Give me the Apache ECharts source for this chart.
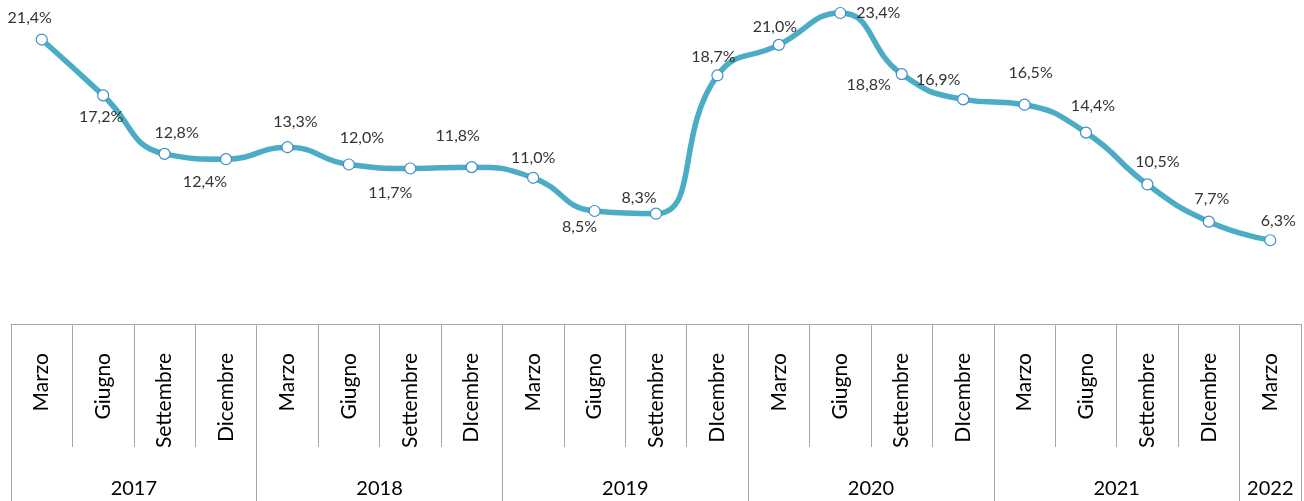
<!DOCTYPE html>
<html>
<head>
<meta charset="utf-8">
<script src="https://cdn.jsdelivr.net/npm/echarts@6/dist/echarts.min.js"></script>
<style>
  html, body { margin: 0; padding: 0; background: #fff; }
  #chart { width: 1304px; height: 501px; }
</style>
</head>
<body>
<div id="chart"></div>
<script>
// trimestri (come nel grafico originale, anche le "DIcembre")
var months = ['Marzo', 'Giugno', 'Settembre', 'Dicembre',
              'Marzo', 'Giugno', 'Settembre', 'DIcembre',
              'Marzo', 'Giugno', 'Settembre', 'DIcembre',
              'Marzo', 'Giugno', 'Settembre', 'DIcembre',
              'Marzo', 'Giugno', 'Settembre', 'DIcembre',
              'Marzo'];
var years = ['2017', '2018', '2019', '2020', '2021', '2022'];
var yearStart = [0, 4, 8, 12, 16, 20, 21];   // confini degli anni in indici di categoria
var values = [21.4, 17.2, 12.8, 12.4, 13.3, 12.0, 11.7, 11.8, 11.0, 8.5, 8.3,
              18.7, 21.0, 23.4, 18.8, 16.9, 16.5, 14.4, 10.5, 7.7, 6.3];

// spostamento delle etichette rispetto al punto (px)
var labelOffsets = [[-12, -22], [-2, 21], [12, -21], [-21, 23], [8, -25], [13, -27],
                    [-20, 24], [-14, -31], [0, -20], [-15, 16], [-17, -16], [-4, -19],
                    [-4, -18], [38, 0], [-33, 11], [-25, -20], [6, -32], [7, -27],
                    [10, -23], [3, -23], [8, -19]];

var FONT = 'Lato';
var GRAY = '#a6a6a6';

var yearMid = [];
for (var i = 0; i < years.length; i++) {
  yearMid.push((yearStart[i] + yearStart[i + 1]) / 2);
}

var seriesData = values.map(function (v, i) {
  return { value: v, label: { offset: labelOffsets[i] } };
});

var myChart = echarts.init(document.getElementById('chart'));
var option = {
  backgroundColor: '#fff',
  animation: false,
  grid: { left: 11, right: 3, top: 5, bottom: 177 },
  xAxis: [
    {
      type: 'category',
      data: months,
      position: 'bottom',
      boundaryGap: true,
      axisLine: { show: true, lineStyle: { color: GRAY, width: 1 } },
      axisTick: { show: true, interval: 0, length: 123, lineStyle: { color: GRAY, width: 1 } },
      axisLabel: {
        interval: 0, rotate: 90, margin: 29,
        fontFamily: FONT, fontSize: 21, color: '#000'
      },
      splitLine: { show: false }
    },
    {
      type: 'value',
      min: 0,
      max: 21,
      position: 'bottom',
      axisLine: { show: false },
      axisTick: { show: true, customValues: yearStart, length: 177, lineStyle: { color: GRAY, width: 1 } },
      axisLabel: {
        customValues: yearMid, margin: 155,
        fontFamily: FONT, fontSize: 20, color: '#000',
        formatter: function (v) {
          return years[yearMid.indexOf(v)];
        }
      },
      splitLine: { show: false }
    }
  ],
  yAxis: {
    type: 'value',
    min: 0,
    max: 24,
    show: false
  },
  series: [
    {
      type: 'line',
      xAxisIndex: 0,
      data: seriesData,
      smooth: 0.5,
      symbol: 'circle',
      symbolSize: 11,
      showAllSymbol: true,
      lineStyle: { color: '#4bacc6', width: 5.5 },
      itemStyle: { color: '#fff', borderColor: '#3d8fc6', borderWidth: 1.2 },
      label: {
        show: true,
        position: 'inside',
        fontFamily: FONT,
        fontSize: 16,
        color: '#333',
        formatter: function (p) {
          return p.value.toFixed(1).replace('.', ',') + '%';
        }
      },
      z: 3
    }
  ]
};
myChart.setOption(option);
</script>
</body>
</html>
